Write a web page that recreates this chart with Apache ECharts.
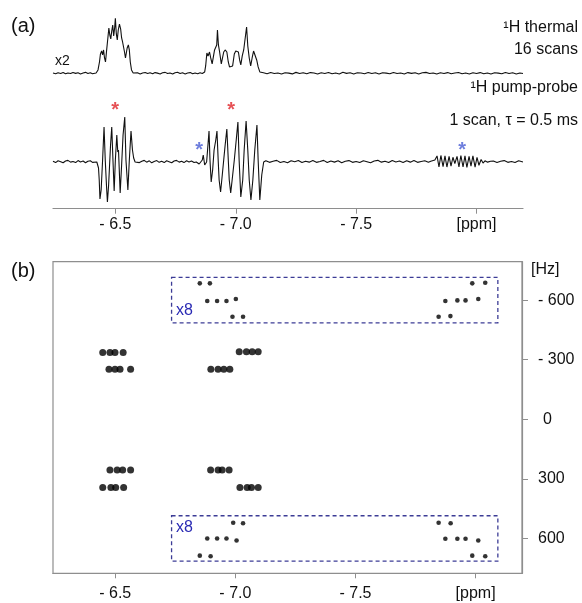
<!DOCTYPE html>
<html>
<head>
<meta charset="utf-8">
<script src="https://cdn.jsdelivr.net/npm/echarts@6/dist/echarts.min.js"></script>
<style>
  html, body { margin: 0; padding: 0; background: #ffffff; }
  #chart { width: 582px; height: 603px; }
</style>
</head>
<body>
<div id="chart"></div>
<script>
// Chemical-shift ticks (ppm) and 2D frequency ticks (Hz)
const ppmTicks = [-6.5, -7.0, -7.5, -8.0];
const hzTicks = [-600, -300, 0, 300, 600];

// 1H thermal spectrum, 16 scans (shown x2): [ppm, intensity]
const thermal = [
  [-6.241,0.004],[-6.252,-0.008],[-6.262,0.01],[-6.273,-0.004],[-6.283,0.012],[-6.293,-0.01],[-6.303,0.006],
  [-6.314,-0.006],[-6.324,0.014],[-6.335,-0.002],[-6.345,0.008],[-6.355,-0.012],[-6.366,0.006],[-6.376,0.016],
  [-6.386,-0.004],[-6.396,0.01],[-6.405,-0.008],[-6.413,0.012],
  [-6.420,0.005],[-6.428,0.06],[-6.434,0.205],[-6.438,0.351],[-6.443,0.405],[-6.447,0.333],[-6.451,0.424],
  [-6.455,0.278],[-6.459,0.205],[-6.463,0.387],[-6.468,0.605],[-6.473,0.824],[-6.477,0.696],[-6.481,0.624],
  [-6.485,0.769],[-6.489,0.878],[-6.493,0.678],[-6.497,0.824],[-6.500,1.0],[-6.504,0.715],[-6.508,0.605],
  [-6.512,0.787],[-6.517,0.896],[-6.522,0.805],[-6.526,0.642],[-6.530,0.569],[-6.534,0.533],[-6.538,0.387],
  [-6.542,0.278],[-6.546,0.242],[-6.549,0.46],[-6.554,0.515],[-6.558,0.424],[-6.562,0.205],[-6.567,0.06],
  [-6.574,0.005],
  [-6.582,-0.006],[-6.592,0.01],[-6.603,-0.012],[-6.613,0.006],[-6.624,0.014],[-6.634,-0.004],[-6.644,0.008],
  [-6.655,-0.01],[-6.665,0.012],[-6.675,0.002],[-6.686,-0.012],[-6.696,0.008],[-6.707,0.016],[-6.717,-0.006],
  [-6.727,0.004],[-6.738,-0.014],[-6.748,0.01],[-6.758,0.018],[-6.769,-0.004],[-6.779,0.008],[-6.790,-0.012],
  [-6.800,0.006],[-6.811,0.012],[-6.821,-0.008],[-6.831,0.004],[-6.842,-0.01],[-6.852,0.008],
  [-6.861,-0.004],[-6.871,0.024],[-6.875,0.133],[-6.880,0.369],[-6.885,0.315],[-6.891,0.387],[-6.896,0.278],
  [-6.902,0.169],[-6.906,0.205],[-6.912,0.424],[-6.917,0.46],[-6.921,0.515],[-6.924,0.787],[-6.928,0.515],
  [-6.933,0.387],[-6.940,0.169],[-6.944,0.205],[-6.950,0.387],[-6.956,0.424],[-6.963,0.387],[-6.969,0.205],
  [-6.974,0.115],[-6.981,0.096],[-6.987,0.133],[-6.994,0.351],[-7.000,0.405],[-7.006,0.369],[-7.011,0.387],
  [-7.016,0.242],[-7.021,0.151],[-7.027,0.315],[-7.033,0.424],[-7.039,0.46],[-7.045,0.842],[-7.050,0.496],
  [-7.056,0.278],[-7.062,0.133],[-7.068,0.278],[-7.074,0.405],[-7.081,0.369],[-7.087,0.242],[-7.093,0.115],
  [-7.100,0.024],[-7.106,-0.004],
  [-7.115,0.01],[-7.13,-0.008],[-7.145,0.014],[-7.16,-0.004],[-7.175,0.006],[-7.19,-0.014],[-7.205,0.01],
  [-7.22,0.002],[-7.235,-0.012],[-7.25,0.016],[-7.265,-0.006],[-7.28,0.008],[-7.295,-0.01],[-7.31,0.012],
  [-7.325,0.004],[-7.34,-0.014],[-7.355,0.01],[-7.37,-0.004],[-7.385,0.014],[-7.4,-0.008],[-7.415,0.006],
  [-7.43,-0.012],[-7.445,0.018],[-7.46,-0.002],[-7.475,0.008],[-7.49,-0.012],[-7.505,0.01],[-7.52,0.004],
  [-7.535,-0.01],[-7.55,0.012],[-7.565,-0.006],[-7.58,0.008],[-7.595,-0.014],[-7.61,0.01],[-7.625,0.002],
  [-7.64,-0.01],[-7.655,0.014],[-7.67,-0.006],[-7.685,0.006],[-7.7,-0.012],[-7.715,0.012],[-7.73,-0.002],
  [-7.745,0.01],[-7.76,-0.014],[-7.775,0.008],[-7.79,0.016],[-7.805,-0.006],[-7.82,0.006],[-7.835,-0.012],
  [-7.85,0.01],[-7.865,-0.004],[-7.88,0.012],[-7.895,-0.01],[-7.91,0.006],[-7.925,0.014],[-7.94,-0.008],
  [-7.955,0.004],[-7.97,-0.012],[-7.985,0.01],[-8.0,-0.004],[-8.015,0.012],[-8.03,-0.01],[-8.045,0.006],
  [-8.06,-0.012],[-8.075,0.01],[-8.09,0.002],[-8.105,-0.01],[-8.12,0.012],[-8.135,-0.006],[-8.15,0.008],
  [-8.165,-0.012],[-8.18,0.006],[-8.193,-0.004]
];

// 1H pump-probe spectrum, 1 scan, tau = 0.5 ms: [ppm, intensity]
const pumpProbe = [
  [-6.241,0.01],[-6.252,-0.02],[-6.262,0.02],[-6.273,0.0],[-6.283,-0.025],[-6.293,0.015],[-6.303,0.03],
  [-6.314,-0.01],[-6.324,0.005],[-6.335,-0.02],[-6.345,0.025],[-6.355,-0.005],[-6.366,0.015],[-6.376,-0.025],
  [-6.386,0.01],[-6.396,0.02],[-6.405,-0.015],[-6.413,0.005],
  [-6.423,-0.007],[-6.430,-0.142],[-6.433,-0.412],[-6.436,-0.84],[-6.441,-0.637],[-6.447,0.038],[-6.453,0.782],
  [-6.458,0.038],[-6.463,-0.525],[-6.467,-0.908],[-6.472,-0.525],[-6.480,0.376],[-6.485,0.782],[-6.490,0.038],
  [-6.495,-0.66],[-6.500,0.038],[-6.506,0.601],[-6.510,0.218],[-6.513,0.264],[-6.520,-0.705],[-6.526,-0.074],
  [-6.532,0.601],[-6.539,1.007],[-6.544,0.038],[-6.552,-0.637],[-6.558,0.038],[-6.565,0.691],[-6.571,0.264],
  [-6.576,0.083],[-6.582,-0.007],
  [-6.590,0.015],[-6.600,-0.02],[-6.610,0.01],[-6.620,0.03],[-6.630,-0.01],[-6.641,0.02],[-6.651,-0.025],
  [-6.661,0.005],[-6.672,0.025],[-6.682,-0.015],[-6.692,0.01],[-6.703,-0.02],[-6.713,0.02],[-6.723,0.0],
  [-6.734,-0.025],[-6.744,0.015],[-6.754,0.03],[-6.765,-0.01],[-6.775,0.01],[-6.785,-0.02],[-6.796,0.02],
  [-6.806,-0.005],[-6.816,0.015],[-6.827,-0.02],
  [-6.836,-0.007],[-6.848,-0.052],[-6.854,-0.097],[-6.861,0.038],[-6.865,0.151],[-6.871,-0.074],[-6.879,-0.007],
  [-6.883,0.264],[-6.889,0.691],[-6.893,0.038],[-6.898,-0.457],[-6.904,-0.187],[-6.910,0.264],[-6.917,0.489],
  [-6.922,0.691],[-6.927,0.038],[-6.931,-0.412],[-6.937,-0.682],[-6.944,-0.3],[-6.950,0.038],[-6.956,0.376],
  [-6.963,0.736],[-6.969,0.038],[-6.973,-0.412],[-6.979,-0.705],[-6.985,-0.412],[-6.994,0.038],[-7.002,0.489],
  [-7.009,0.894],[-7.014,0.038],[-7.021,-0.795],[-7.029,-0.412],[-7.035,0.264],[-7.043,0.917],[-7.050,0.264],
  [-7.056,-0.412],[-7.063,-0.863],[-7.071,-0.412],[-7.079,0.264],[-7.088,0.827],[-7.093,0.038],[-7.100,-0.863],
  [-7.108,-0.3],[-7.116,-0.007],
  [-7.125,0.02],[-7.14,-0.015],[-7.155,0.01],[-7.17,0.03],[-7.185,-0.02],[-7.2,0.005],[-7.215,-0.025],
  [-7.23,0.02],[-7.245,0.0],[-7.26,0.025],[-7.275,-0.02],[-7.29,0.01],[-7.305,-0.01],[-7.32,0.025],
  [-7.335,-0.015],[-7.35,0.005],[-7.365,0.03],[-7.38,-0.02],[-7.395,0.015],[-7.41,-0.01],[-7.425,0.02],
  [-7.44,-0.025],[-7.455,0.01],[-7.47,0.025],[-7.485,-0.015],[-7.5,0.005],[-7.515,-0.02],[-7.53,0.02],
  [-7.545,0.0],[-7.56,-0.025],[-7.575,0.015],[-7.59,0.03],[-7.605,-0.01],[-7.62,0.01],[-7.635,-0.02],
  [-7.65,0.025],[-7.665,-0.005],[-7.68,0.015],[-7.695,-0.02],[-7.71,0.02],[-7.725,-0.01],[-7.74,0.025],
  [-7.755,-0.015],[-7.77,0.005],[-7.785,0.02],[-7.8,-0.015],[-7.81,0.01],
  [-7.817,0.0],[-7.827,0.04],[-7.836,0.13],[-7.844,-0.12],[-7.852,0.14],[-7.861,-0.11],[-7.869,0.13],
  [-7.877,-0.12],[-7.886,0.12],[-7.894,-0.1],[-7.902,0.1],[-7.910,-0.04],[-7.919,0.12],[-7.927,-0.12],
  [-7.935,0.14],[-7.944,-0.12],[-7.952,0.13],[-7.960,-0.13],[-7.969,0.12],[-7.977,-0.1],[-7.985,0.13],
  [-7.994,-0.12],[-8.002,0.1],[-8.010,-0.08],[-8.019,0.05],[-8.027,-0.03],[-8.035,0.02],[-8.046,-0.01],
  [-8.058,0.01],
  [-8.07,0.015],[-8.085,-0.02],[-8.1,0.01],[-8.115,0.025],[-8.13,-0.015],[-8.145,0.005],[-8.16,-0.02],
  [-8.175,0.02],[-8.193,-0.005]
];

// Asterisk markers above the pump-probe trace: [ppm, intensity]
const redStars = [[-6.499, 1.277], [-6.981, 1.277]];
const blueStars = [[-6.848, 0.354], [-7.940, 0.376]];

// 2D map peaks: [ppm, Hz]
const peaks2D = [
  [-6.448,-337],[-6.478,-337],[-6.499,-337],[-6.533,-337],
  [-6.474,-252],[-6.499,-252],[-6.520,-252],[-6.564,-252],
  [-6.478,255],[-6.508,255],[-6.531,255],[-6.564,255],
  [-6.448,344],[-6.482,344],[-6.502,344],[-6.535,344],
  [-7.016,-340],[-7.046,-340],[-7.070,-340],[-7.095,-340],
  [-6.898,-252],[-6.928,-252],[-6.952,-252],[-6.977,-252],
  [-6.897,255],[-6.928,255],[-6.945,255],[-6.974,255],
  [-7.019,344],[-7.049,344],[-7.067,344],[-7.095,344]
];

// Weak 2D peaks, drawn inside the x8 regions: [ppm, Hz]
const peaks2DWeak = [
  [-6.852,-685],[-6.894,-685],
  [-6.883,-596],[-6.924,-596],[-6.963,-596],[-7.002,-606],
  [-6.988,-517],[-7.032,-517],
  [-7.986,-685],[-8.040,-688],
  [-7.874,-596],[-7.924,-599],[-7.958,-599],[-8.011,-606],
  [-7.846,-517],[-7.895,-520],
  [-6.991,521],[-7.032,524],
  [-6.883,601],[-6.924,601],[-6.963,601],[-7.005,611],
  [-6.852,687],[-6.897,690],
  [-7.846,521],[-7.896,524],
  [-7.874,602],[-7.924,602],[-7.958,602],[-8.011,611],
  [-7.986,687],[-8.040,690]
];

// x8 regions: [[ppm1, Hz1], [ppm2, Hz2]]
const zoomBoxes = [
  [[-6.7345, -715], [-8.0925, -486]],
  [[-6.7345, 486], [-8.0925, 715]]
];

const FONT = '"Liberation Sans", Arial, sans-serif';
const AXIS_GREY = '#8e8e8e';
const PPM_MIN = -8.193, PPM_MAX = -6.241;

const ppmLabel = v => (Math.abs(v + 8) < 1e-6 ? '[ppm]' : '- ' + Math.abs(v).toFixed(1));
const hzLabel = v => (v < 0 ? '- ' + (-v) : (v === 0 ? '{z|0}' : String(v)));

const chart = echarts.init(document.getElementById('chart'), null, { renderer: 'canvas' });

chart.setOption({
  animation: false,
  backgroundColor: '#ffffff',
  textStyle: { fontFamily: FONT },
  grid: [
    { left: 53, right: 59, top: 15, height: 61 },
    { left: 53, right: 59, top: 95, bottom: 394.3 },
    { left: 53, right: 60, top: 261.7, bottom: 29.7, show: true, borderColor: AXIS_GREY, borderWidth: 1.2 }
  ],
  xAxis: [
    { gridIndex: 0, type: 'value', min: PPM_MIN, max: PPM_MAX, inverse: true, show: false },
    {
      gridIndex: 1, type: 'value', min: PPM_MIN, max: PPM_MAX, inverse: true,
      splitLine: { show: false },
      axisLine: { show: true, onZero: false, lineStyle: { color: AXIS_GREY, width: 1.2 } },
      axisTick: { show: true, customValues: ppmTicks, length: 5, lineStyle: { color: AXIS_GREY } },
      axisLabel: { customValues: ppmTicks, formatter: ppmLabel, margin: 8, fontSize: 16, color: '#111', fontFamily: FONT }
    },
    {
      gridIndex: 2, type: 'value', min: PPM_MIN, max: PPM_MAX, inverse: true,
      splitLine: { show: false },
      axisLine: { show: true, onZero: false, lineStyle: { color: AXIS_GREY, width: 1.2 } },
      axisTick: { show: true, customValues: ppmTicks, length: 5, lineStyle: { color: AXIS_GREY } },
      axisLabel: { customValues: ppmTicks, formatter: ppmLabel, margin: 12, fontSize: 16, color: '#111', fontFamily: FONT }
    }
  ],
  yAxis: [
    { gridIndex: 0, type: 'value', min: -0.05, max: 1.06, show: false },
    { gridIndex: 1, type: 'value', min: -1.0586, max: 1.502, show: false },
    {
      gridIndex: 2, type: 'value', min: -794, max: 776, inverse: true, position: 'right',
      splitLine: { show: false },
      axisLine: { show: true, onZero: false, lineStyle: { color: AXIS_GREY, width: 1.2 } },
      axisTick: { show: true, customValues: hzTicks, length: 6, lineStyle: { color: AXIS_GREY } },
      axisLabel: {
        customValues: hzTicks, formatter: hzLabel, margin: 16, fontSize: 16, color: '#111', fontFamily: FONT,
        rich: { z: { fontSize: 16, color: '#111', fontFamily: FONT, padding: [0, 0, 0, 5] } }
      }
    }
  ],
  series: [
    {
      name: 'thermal', type: 'line', xAxisIndex: 0, yAxisIndex: 0, data: thermal,
      showSymbol: false, symbol: 'none', lineStyle: { color: '#111111', width: 1.1 }
    },
    {
      name: 'pump-probe', type: 'line', xAxisIndex: 1, yAxisIndex: 1, data: pumpProbe,
      showSymbol: false, symbol: 'none', lineStyle: { color: '#111111', width: 1.1 }
    },
    {
      name: 'red-stars', type: 'scatter', xAxisIndex: 1, yAxisIndex: 1, data: redStars,
      symbolSize: 1, itemStyle: { color: 'rgba(0,0,0,0)' }, clip: false,
      label: { show: true, position: 'inside', formatter: '*', fontSize: 20, fontWeight: 'bold',
               color: '#e0262b', offset: [0, 5], fontFamily: FONT }
    },
    {
      name: 'blue-stars', type: 'scatter', xAxisIndex: 1, yAxisIndex: 1, data: blueStars,
      symbolSize: 1, itemStyle: { color: 'rgba(0,0,0,0)' }, clip: false,
      label: { show: true, position: 'inside', formatter: '*', fontSize: 20, fontWeight: 'bold',
               color: '#4a5ed4', offset: [0, 5], fontFamily: FONT }
    },
    {
      name: 'peaks', type: 'scatter', xAxisIndex: 2, yAxisIndex: 2, data: peaks2D,
      symbol: 'circle', symbolSize: 7, itemStyle: { color: '#000000' }
    },
    {
      name: 'weak-peaks', type: 'scatter', xAxisIndex: 2, yAxisIndex: 2, data: peaks2DWeak,
      symbol: 'circle', symbolSize: 4.6, itemStyle: { color: '#000000' },
      markArea: {
        silent: true,
        itemStyle: { color: 'rgba(0,0,0,0)', borderColor: '#3c3c96', borderWidth: 1.3, borderType: [4, 3] },
        label: { show: true, formatter: 'x8', color: '#2a2ab4', fontSize: 16, fontFamily: FONT, distance: 5 },
        data: [
          [
            { xAxis: zoomBoxes[0][0][0], yAxis: zoomBoxes[0][0][1] },
            { xAxis: zoomBoxes[0][1][0], yAxis: zoomBoxes[0][1][1], label: { position: 'insideBottomLeft' } }
          ],
          [
            { xAxis: zoomBoxes[1][0][0], yAxis: zoomBoxes[1][0][1] },
            { xAxis: zoomBoxes[1][1][0], yAxis: zoomBoxes[1][1][1], label: { position: 'insideTopLeft' } }
          ]
        ]
      }
    }
  ],
  graphic: [
    { type: 'text', left: 11, top: 16, style: { text: '(a)', fontSize: 20, fill: '#111', fontFamily: FONT } },
    { type: 'text', left: 11, top: 261, style: { text: '(b)', fontSize: 20, fill: '#111', fontFamily: FONT } },
    { type: 'text', left: 55, top: 54, style: { text: 'x2', fontSize: 14, fill: '#111', fontFamily: FONT } },
    { type: 'text', right: 4, top: 20, style: { text: '¹H thermal', fontSize: 16, fill: '#111', fontFamily: FONT } },
    { type: 'text', right: 4, top: 42, style: { text: '16 scans', fontSize: 16, fill: '#111', fontFamily: FONT } },
    { type: 'text', right: 4, top: 80, style: { text: '¹H pump-probe', fontSize: 16, fill: '#111', fontFamily: FONT } },
    { type: 'text', right: 4, top: 113, style: { text: '1 scan, τ = 0.5 ms', fontSize: 16, fill: '#111', fontFamily: FONT } },
    { type: 'text', left: 531, top: 262, style: { text: '[Hz]', fontSize: 16, fill: '#111', fontFamily: FONT } }
  ]
});
</script>
</body>
</html>
